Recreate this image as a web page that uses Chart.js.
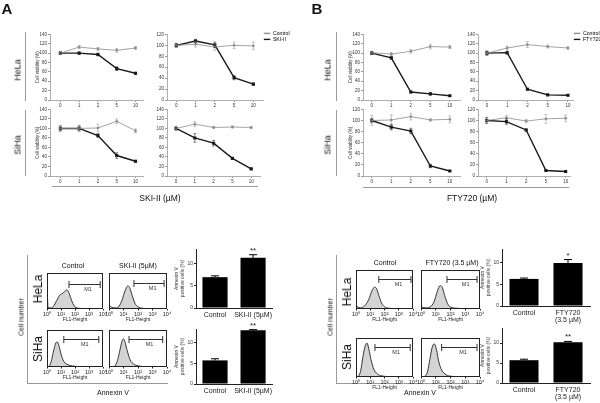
<!DOCTYPE html>
<html><head><meta charset="utf-8">
<script src="https://cdn.jsdelivr.net/npm/chart.js@4.4.0/dist/chart.umd.min.js"></script>
<style>
body{margin:0;background:#fff;}
#root{position:relative;width:600px;height:403px;overflow:hidden;font-family:'Liberation Sans',Arial,sans-serif;color:#111}
.t{position:absolute;white-space:nowrap;transform:translate(-50%,-50%);line-height:1;opacity:0.999;will-change:transform;-webkit-font-smoothing:antialiased;color:#111}
.r{transform:translate(-50%,-50%) rotate(-90deg)}
.hl{position:absolute;height:0;border-top:1px solid #9a9a9a}
.vl{position:absolute;width:0;border-left:1px solid #9a9a9a}
canvas{position:absolute}
</style></head><body><div id="root">
<div class="t" style="left:7px;top:8px;font-size:15px;font-weight:bold">A</div>
<div class="t" style="left:317px;top:8px;font-size:15px;font-weight:bold">B</div>
<div class="t r" style="left:18px;top:70px;font-size:9px">HeLa</div>
<div class="t r" style="left:18px;top:145px;font-size:9px">SiHa</div>
<div class="vl" style="left:25px;top:32px;height:69px"></div>
<div class="vl" style="left:25px;top:110px;height:66px"></div>
<div class="hl" style="left:52px;top:186px;width:206px"></div>
<div class="t" style="left:160px;top:198px;font-size:8.5px">SKI-II (µM)</div>
<div class="t r" style="left:328px;top:70px;font-size:9px">HeLa</div>
<div class="t r" style="left:328px;top:145px;font-size:9px">SiHa</div>
<div class="vl" style="left:336px;top:32px;height:69px"></div>
<div class="vl" style="left:336px;top:110px;height:66px"></div>
<div class="hl" style="left:363px;top:187px;width:206px"></div>
<div class="t" style="left:472px;top:198px;font-size:8.5px">FTY720 (µM)</div>

<div class="t r" style="left:21px;top:317px;font-size:7px">Cell number</div>
<div class="vl" style="left:27px;top:255px;height:128px"></div>
<div class="hl" style="left:27px;top:383px;width:141px"></div>
<div class="t" style="left:113px;top:392px;font-size:7px">Annexin V</div>
<div class="t" style="left:73px;top:265px;font-size:7px">Control</div>
<div class="t" style="left:138px;top:265px;font-size:7px">SKI-II (5µM)</div>
<div class="t r" style="left:38px;top:289px;font-size:12px">HeLa</div>
<div class="t r" style="left:38px;top:349px;font-size:12px">SiHa</div>

<div class="t r" style="left:330px;top:317px;font-size:7px">Cell number</div>
<div class="vl" style="left:336px;top:255px;height:128px"></div>
<div class="hl" style="left:336px;top:383px;width:146px"></div>
<div class="t" style="left:420px;top:392px;font-size:7px">Annexin V</div>
<div class="t" style="left:385px;top:262px;font-size:7px">Control</div>
<div class="t" style="left:452px;top:262px;font-size:7px">FTY720 (3.5 µM)</div>
<div class="t r" style="left:347px;top:292px;font-size:12px">HeLa</div>
<div class="t r" style="left:347px;top:357px;font-size:12px">SiHa</div>
</div>
<script>
// ---------- data ----------
const doses = ['0', '1', '2', '5', '10'];
// Panel A : SKI-II, cell viability (%)
const aHela1Ctrl = [100, 113, 109, 106, 111];
const aHela1CtrlErr = [3, 3, 3, 4, 3];
const aHela1Ski = [100, 100, 97, 67, 57];
const aHela1SkiErr = [2, 2, 3, 4, 2];
const aHela2Ctrl = [100, 102, 97, 100, 99];
const aHela2CtrlErr = [4, 5, 6, 6, 7];
const aHela2Ski = [100, 108, 101, 41, 29];
const aHela2SkiErr = [3, 3, 5, 4, 2];
const aSiha1Ctrl = [100, 100, 101, 115, 95];
const aSiha1CtrlErr = [6, 6, 8, 5, 4];
const aSiha1Ski = [100, 100, 85, 43, 31];
const aSiha1SkiErr = [5, 5, 4, 6, 2];
const aSiha2Ctrl = [100, 109, 102, 103, 102];
const aSiha2CtrlErr = [5, 5, 2, 2, 2];
const aSiha2Ski = [100, 80, 69, 37, 15];
const aSiha2SkiErr = [3, 9, 6, 2, 1];
// Panel B : FTY720, cell viability (%)
const bHela1Ctrl = [101, 98, 104, 114, 113];
const bHela1CtrlErr = [3, 3, 4, 5, 3];
const bHela1Fty = [100, 90, 17, 13, 9];
const bHela1FtyErr = [3, 2, 2, 2, 1];
const bHela2Ctrl = [100, 111, 118, 114, 111];
const bHela2CtrlErr = [5, 4, 6, 3, 3];
const bHela2Fty = [100, 101, 23, 11, 10];
const bHela2FtyErr = [4, 3, 2, 1, 1];
const bSiha1Ctrl = [100, 101, 107, 101, 102];
const bSiha1CtrlErr = [9, 9, 6, 2, 6];
const bSiha1Fty = [100, 88, 81, 18, 9];
const bSiha1FtyErr = [4, 5, 5, 3, 1];
const bSiha2Ctrl = [100, 105, 99, 103, 104];
const bSiha2CtrlErr = [5, 4, 3, 8, 6];
const bSiha2Fty = [100, 98, 83, 10, 8];
const bSiha2FtyErr = [5, 5, 2, 1, 2];
// Flow cytometry histograms: [log10 FL1, % of max events]
const decadeLabels = ['10\u2070', '10\u00B9', '10\u00B2', '10\u00B3', '10\u2074'];
const histAHelaCtrl = [[0,0],[0.03,33],[0.07,4],[0.3,3],[0.5,10],[0.7,24],[0.9,38],[1.05,42],[1.2,46],[1.4,53],[1.55,47],[1.7,30],[1.85,15],[2.0,6],[2.3,2],[2.8,1],[4,0]];
const histAHelaSki = [[0,0],[0.05,9],[0.2,4],[0.5,3],[0.7,8],[0.9,25],[1.1,50],[1.3,64],[1.45,57],[1.6,37],[1.8,15],[2.0,6],[2.3,2],[3,0.5],[4,0]];
const histASihaCtrl = [[0,0],[0.15,2],[0.3,15],[0.45,40],[0.6,62],[0.72,68],[0.85,58],[1.0,35],[1.2,15],[1.5,6],[1.8,3],[2.2,1],[3,0],[4,0]];
const histASihaSki = [[0,0],[0.3,1],[0.45,5],[0.6,20],[0.75,45],[0.9,70],[1.0,76],[1.1,68],[1.25,45],[1.45,20],[1.7,8],[2.0,3],[2.5,1],[4,0]];
const histBHelaCtrl = [[0,0],[0.05,6],[0.3,3],[0.6,8],[0.9,25],[1.1,45],[1.3,56],[1.45,52],[1.6,35],[1.8,15],[2.0,6],[2.3,2],[3,0.5],[4,0]];
const histBHelaFty = [[0,0],[0.05,5],[0.3,3],[0.6,5],[0.9,20],[1.1,45],[1.3,60],[1.45,55],[1.6,35],[1.8,14],[2.0,5],[2.4,2],[3,0.5],[4,0]];
const histBSihaCtrl = [[0,0],[0.2,3],[0.35,20],[0.5,55],[0.65,80],[0.77,87],[0.9,72],[1.05,45],[1.25,20],[1.5,8],[1.8,3],[2.3,1],[4,0]];
const histBSihaFty = [[0,0],[0.3,3],[0.45,15],[0.6,45],[0.75,75],[0.9,85],[1.05,70],[1.2,40],[1.4,18],[1.7,6],[2.0,2],[2.5,1],[4,0]];
// M1 gates: [start decade, end decade, level (% of max)]
const gateAHelaCtrl = [1.57, 3.8, 69];
const gateAHelaSki = [1.72, 3.8, 72];
const gateASihaCtrl = [1.2, 3.7, 76];
const gateASihaSki = [1.38, 3.7, 77];
const gateBHelaCtrl = [1.6, 3.86, 77];
const gateBHelaFty = [1.76, 3.8, 77];
const gateBSihaCtrl = [1.33, 3.8, 77];
const gateBSihaFty = [1.4, 3.8, 77];
// Annexin V positive cells (%)
const annexLabelsA = ['Control', 'SKI-II (5µM)'];
const annexLabelsB = ['Control', ['FTY720', '(3.5 µM)']];
const aHelaAnnexin = [7.0, 11.4];
const aHelaAnnexinErr = [0.3, 0.7];
const aHelaSig = ['', '**'];
const aSihaAnnexin = [5.75, 13.1];
const aSihaAnnexinErr = [0.4, 0.15];
const aSihaSig = ['', '**'];
const bHelaAnnexin = [6.3, 10.0];
const bHelaAnnexinErr = [0.2, 0.8];
const bHelaSig = ['', '*'];
const bSihaAnnexin = [5.7, 10.2];
const bSihaAnnexinErr = [0.25, 0.2];
const bSihaSig = ['', '**'];

// ---------- helpers ----------
Chart.defaults.font.family = "'Liberation Sans', Arial, sans-serif";
Chart.defaults.color = '#222';

const errPlugin = {
  id: 'errbars',
  afterDatasetsDraw(chart) {
    const ctx = chart.ctx;
    chart.data.datasets.forEach((ds, di) => {
      if (!ds.errors) return;
      const meta = chart.getDatasetMeta(di);
      const ys = chart.scales[meta.yAxisID];
      ctx.save();
      ctx.strokeStyle = ds.errColor || ds.borderColor;
      ctx.lineWidth = ds.errWidth || 0.6;
      meta.data.forEach((el, i) => {
        const raw = ds.data[i];
        const v = (typeof raw === 'object') ? raw.y : raw;
        const e = ds.errors[i];
        const x = el.x;
        const yT = ys.getPixelForValue(v + e);
        const yB = ds.errUpOnly ? ys.getPixelForValue(v) : ys.getPixelForValue(v - e);
        const cw = ds.capWidth || 3;
        if (e) {
          ctx.beginPath();
          ctx.moveTo(x, yB); ctx.lineTo(x, yT);
          ctx.moveTo(x - cw / 2, yT); ctx.lineTo(x + cw / 2, yT);
          if (!ds.errUpOnly) { ctx.moveTo(x - cw / 2, yB); ctx.lineTo(x + cw / 2, yB); }
          ctx.stroke();
        }
        if (ds.sig && ds.sig[i]) {
          ctx.fillStyle = '#222';
          ctx.font = "8px 'Liberation Sans', Arial, sans-serif";
          ctx.textAlign = 'center';
          ctx.textBaseline = 'alphabetic';
          ctx.fillText(ds.sig[i], x, yT - 2);
        }
      });
      ctx.restore();
    });
  }
};
const legendShift = {
  id: 'legendShift',
  afterLayout(chart, args, opts) {
    const lg = chart.legend;
    if (!lg || !opts || !opts.on) return;
    lg.top += opts.dy; lg.bottom += opts.dy;
    lg.width = opts.w; lg.right = lg.left + opts.w;
  }
};
const framePlugin = {
  id: 'frame',
  afterDraw(chart) {
    const {ctx, chartArea: a} = chart;
    ctx.save(); ctx.strokeStyle = '#222'; ctx.lineWidth = 1;
    ctx.strokeRect(Math.round(a.left) + 0.5, Math.round(a.top) + 0.5, Math.round(a.right - a.left) - 1, Math.round(a.bottom - a.top) - 1);
    ctx.restore();
  }
};
const gatePlugin = {
  id: 'gate',
  afterDraw(chart, args, o) {
    const {ctx, scales: {x, y}} = chart;
    const x1 = x.getPixelForValue(o.range[0]), x2 = x.getPixelForValue(o.range[1]);
    const yy = Math.round(y.getPixelForValue(o.range[2])) + 0.5;
    ctx.save(); ctx.strokeStyle = '#333'; ctx.lineWidth = 1;
    ctx.beginPath();
    ctx.moveTo(x1, yy); ctx.lineTo(x2, yy);
    ctx.moveTo(x1, yy - 3.5); ctx.lineTo(x1, yy + 3.5);
    ctx.moveTo(x2, yy - 3.5); ctx.lineTo(x2, yy + 3.5);
    ctx.stroke();
    ctx.fillStyle = '#333';
    ctx.font = "5.5px 'Liberation Sans', Arial, sans-serif";
    ctx.textAlign = 'center'; ctx.textBaseline = 'top';
    ctx.fillText('M1', x.getPixelForValue((o.range[0] + o.range[1]) / 2 + 0.25), yy + 2);
    ctx.restore();
  }
};

function makeChart(area, m, config) {
  const W = area.w + m.l + m.r, H = area.h + m.t + m.b;
  const c = document.createElement('canvas');
  c.width = W; c.height = H;
  c.style.left = (area.x - m.l) + 'px'; c.style.top = (area.y - m.t) + 'px';
  c.style.width = W + 'px'; c.style.height = H + 'px';
  document.getElementById('root').appendChild(c);
  config.options.responsive = false;
  config.options.animation = false;
  config.options.devicePixelRatio = 1;
  config.options.layout = {padding: {left: m.l - m.yW, right: m.r - (m.legW || 0), top: m.t, bottom: m.b - m.xH}};
  return new Chart(c, config);
}

function viability(area, ctrl, ctrlErr, trt, trtErr, trtName, ymax, o) {
  const yW = o.title ? 15 : 12;
  const m = {l: yW + 1, r: o.legend ? 34 : 3, t: 5, b: 11, yW: yW, xH: 10, legW: o.legend ? 22 : 0};
  const pts = arr => arr.map((v, i) => ({x: i, y: v}));
  const axisCol = '#9a9a9a';
  return makeChart(area, m, {
    type: 'line',
    data: {datasets: [
      {label: 'Control', data: pts(ctrl), errors: ctrlErr, borderColor: '#8c8c8c', backgroundColor: '#8c8c8c', borderWidth: 0.8, pointRadius: 1, pointStyle: 'circle', errWidth: 0.5, capWidth: 3},
      {label: trtName, data: pts(trt), errors: trtErr, borderColor: '#1a1a1a', backgroundColor: '#1a1a1a', borderWidth: 1.4, pointRadius: 1.2, pointStyle: 'rect', errWidth: 0.5, capWidth: 3}
    ]},
    options: {
      plugins: {
        tooltip: {enabled: false},
        legendShift: {on: !!o.legend, dy: -4, w: 34},
        legend: o.legend ? {display: true, position: 'right', align: 'start', maxWidth: 22,
          labels: {boxWidth: 6.5, boxHeight: 1.4, padding: 0.8, font: {size: 5.2}, color: '#222',
            generateLabels: ch => ch.data.datasets.map((d, i) => ({text: d.label, fillStyle: d.borderColor, strokeStyle: d.borderColor, lineWidth: 0, hidden: false, datasetIndex: i}))}}
          : {display: false}
      },
      scales: {
        x: {type: 'linear', min: o.xmin, max: o.xmax,
          afterBuildTicks: s => { s.ticks = doses.map((d, i) => ({value: i})); },
          ticks: {callback: v => doses[v], font: {size: 4.5}, padding: 1, color: '#333', maxRotation: 0, autoSkip: false},
          grid: {display: true, drawOnChartArea: false, tickLength: 2, color: axisCol},
          border: {color: axisCol, width: 0.8},
          afterFit: s => { s.height = 10; }},
        y: {min: 0, max: ymax,
          afterBuildTicks: s => { const t = []; for (let v = 0; v <= ymax; v += 20) t.push({value: v}); s.ticks = t; },
          ticks: {font: {size: 4.5}, padding: 1, color: '#333'},
          grid: {display: true, drawOnChartArea: false, tickLength: 2, color: axisCol},
          border: {color: axisCol, width: 0.8},
          title: {display: !!o.title, text: 'Cell viability (%)', font: {size: 4.5}, padding: 0, color: '#333'},
          afterFit: s => { s.width = yW; }}
      }
    },
    plugins: [errPlugin, legendShift]
  });
}

function histogram(area, pts, gate) {
  const m = {l: 7, r: 7, t: 2, b: 15, yW: 0, xH: 14};
  return makeChart(area, m, {
    type: 'line',
    data: {datasets: [{data: pts.map(p => ({x: p[0], y: p[1]})), borderColor: '#222', borderWidth: 0.9,
      backgroundColor: '#d4d4d4', fill: 'origin', pointRadius: 0, cubicInterpolationMode: 'monotone'}]},
    options: {
      plugins: {legend: {display: false}, tooltip: {enabled: false}, gate: {range: gate}},
      scales: {
        x: {type: 'linear', min: 0, max: 4,
          afterBuildTicks: s => { s.ticks = decadeLabels.map((d, i) => ({value: i})); },
          ticks: {callback: v => decadeLabels[v], font: {size: 5.5}, padding: 0.5, color: '#222', maxRotation: 0, autoSkip: false},
          grid: {display: true, drawOnChartArea: false, tickLength: 1.5, color: '#222'},
          border: {display: false},
          title: {display: true, text: 'FL1-Height', font: {size: 5}, padding: 0, color: '#222'},
          afterFit: s => { s.height = 14; }},
        y: {display: false, min: 0, max: 100}
      }
    },
    plugins: [framePlugin, gatePlugin]
  });
}

function annexinBar(area, labels, vals, errs, sig, ymax, xH) {
  const m = {l: 23, r: 4, t: 8, b: xH + 2, yW: 22, xH: xH};
  return makeChart(area, m, {
    type: 'bar',
    data: {labels: labels, datasets: [{data: vals, errors: errs, sig: sig, errUpOnly: true, capWidth: 8, errWidth: 1,
      backgroundColor: '#000', borderColor: '#000', barPercentage: 0.66, categoryPercentage: 1}]},
    options: {
      plugins: {legend: {display: false}, tooltip: {enabled: false}},
      scales: {
        x: {ticks: {font: {size: 7, lineHeight: 1.0}, padding: 4, color: '#222', maxRotation: 0, autoSkip: false},
          grid: {display: true, drawOnChartArea: false, drawTicks: false, color: '#222'},
          border: {color: '#222', width: 1},
          afterFit: s => { s.height = xH; }},
        y: {min: 0, max: ymax,
          afterBuildTicks: s => { s.ticks = [0, 5, 10].map(v => ({value: v})); },
          ticks: {font: {size: 5}, padding: 1, color: '#333'},
          grid: {display: true, drawOnChartArea: false, tickLength: 2, color: '#222'},
          border: {color: '#222', width: 1},
          title: {display: true, text: ['Annexin V', 'positive cells (%)'], font: {size: 5, lineHeight: 1.1}, padding: 0, color: '#333'},
          afterFit: s => { s.width = 22; }}
      }
    },
    plugins: [errPlugin]
  });
}

// ---------- panel A ----------
viability({x: 50, y: 34, w: 96, h: 66}, aHela1Ctrl, aHela1CtrlErr, aHela1Ski, aHela1SkiErr, 'SKI-II', 140, {title: true, xmin: -0.55, xmax: 4.43});
viability({x: 167, y: 34, w: 96, h: 66}, aHela2Ctrl, aHela2CtrlErr, aHela2Ski, aHela2SkiErr, 'SKI-II', 120, {legend: true, xmin: -0.48, xmax: 4.5});
viability({x: 50, y: 109, w: 96, h: 67}, aSiha1Ctrl, aSiha1CtrlErr, aSiha1Ski, aSiha1SkiErr, 'SKI-II', 140, {title: true, xmin: -0.55, xmax: 4.43});
viability({x: 167, y: 109, w: 96, h: 67}, aSiha2Ctrl, aSiha2CtrlErr, aSiha2Ski, aSiha2SkiErr, 'SKI-II', 140, {xmin: -0.48, xmax: 4.5});

histogram({x: 47, y: 273, w: 56, h: 36}, histAHelaCtrl, gateAHelaCtrl);
histogram({x: 109, y: 273, w: 58, h: 36}, histAHelaSki, gateAHelaSki);
histogram({x: 47, y: 330, w: 56, h: 37}, histASihaCtrl, gateASihaCtrl);
histogram({x: 109, y: 330, w: 58, h: 37}, histASihaSki, gateASihaSki);

annexinBar({x: 196, y: 249, w: 77, h: 59}, annexLabelsA, aHelaAnnexin, aHelaAnnexinErr, aHelaSig, 13.4, 12);
annexinBar({x: 196, y: 329, w: 77, h: 55}, annexLabelsA, aSihaAnnexin, aSihaAnnexinErr, aSihaSig, 13.4, 12);

// ---------- panel B ----------
viability({x: 363, y: 34, w: 100, h: 66}, bHela1Ctrl, bHela1CtrlErr, bHela1Fty, bHela1FtyErr, 'FTY720', 140, {title: true, xmin: -0.45, xmax: 4.55});
viability({x: 478, y: 34, w: 95, h: 66}, bHela2Ctrl, bHela2CtrlErr, bHela2Fty, bHela2FtyErr, 'FTY720', 140, {legend: true, xmin: -0.44, xmax: 4.25});
viability({x: 363, y: 109, w: 100, h: 67}, bSiha1Ctrl, bSiha1CtrlErr, bSiha1Fty, bSiha1FtyErr, 'FTY720', 120, {title: true, xmin: -0.45, xmax: 4.55});
viability({x: 478, y: 109, w: 95, h: 67}, bSiha2Ctrl, bSiha2CtrlErr, bSiha2Fty, bSiha2FtyErr, 'FTY720', 120, {xmin: -0.44, xmax: 4.25});

histogram({x: 356, y: 270, w: 57, h: 39}, histBHelaCtrl, gateBHelaCtrl);
histogram({x: 421, y: 270, w: 59, h: 39}, histBHelaFty, gateBHelaFty);
histogram({x: 356, y: 338, w: 57, h: 39}, histBSihaCtrl, gateBSihaCtrl);
histogram({x: 421, y: 338, w: 59, h: 39}, histBSihaFty, gateBSihaFty);

annexinBar({x: 502, y: 249, w: 88, h: 57}, annexLabelsB, bHelaAnnexin, bHelaAnnexinErr, bHelaSig, 13.25, 20);
annexinBar({x: 502, y: 328, w: 88, h: 55}, annexLabelsB, bSihaAnnexin, bSihaAnnexinErr, bSihaSig, 13.75, 20);
</script>
</body></html>
